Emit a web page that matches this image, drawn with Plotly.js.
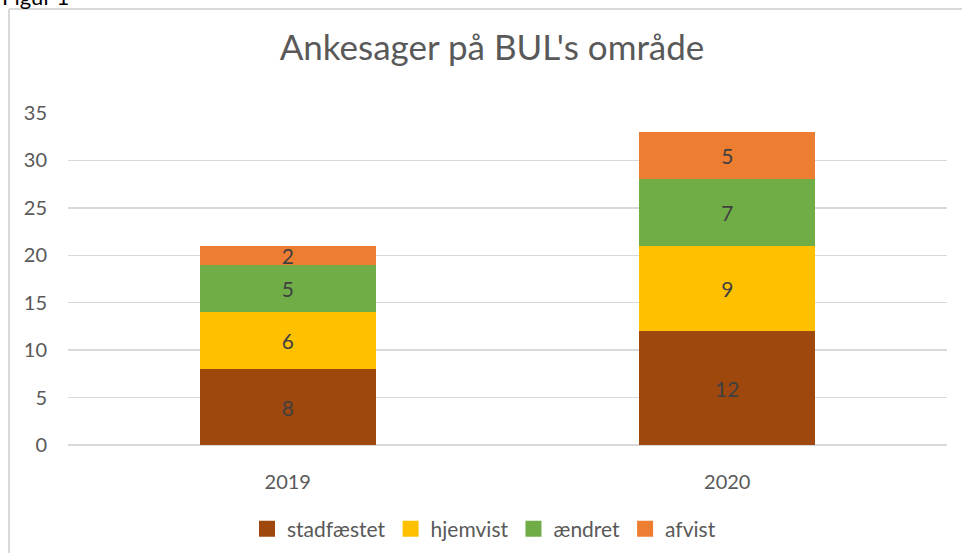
<!DOCTYPE html>
<html>
<head>
<meta charset="utf-8">
<script src="https://cdn.plot.ly/plotly-3.0.1.min.js"></script>
<style>
html,body{margin:0;padding:0;background:#fff;}
#chart{width:962px;height:553px;}
</style>
</head>
<body>
<div id="chart"></div>
<script>
const years = ['2019', '2020'];
const stadfaestet = [8, 12];
const hjemvist = [6, 9];
const aendret = [5, 7];
const afvist = [2, 5];
const seriesNames = ['stadfæstet', 'hjemvist', 'ændret', 'afvist'];
const seriesColors = ['#9E480E', '#FFC000', '#70AD47', '#ED7D31'];
const seriesValues = [stadfaestet, hjemvist, aendret, afvist];

const FONT = 'Lato, "Open Sans", sans-serif';
const W = 962, H = 553;
const mL = 68, mR = 15, mT = 113, mB = 108;
const pw = W - mL - mR, ph = H - mT - mB;
const px = v => (v - mL) / pw;
const py = v => (H - mB - v) / ph;

const barTraces = seriesNames.map((n, i) => ({
  type: 'bar',
  name: n,
  x: years,
  y: seriesValues[i],
  marker: {color: seriesColors[i], line: {width: 0}},
  text: seriesValues[i].map(String),
  textposition: 'inside',
  insidetextanchor: 'middle',
  textangle: 0,
  constraintext: 'none',
  textfont: {family: FONT, size: 21, color: '#404040'},
  hoverinfo: 'skip',
  showlegend: false
}));

const legendTraces = seriesNames.map((n, i) => ({
  type: 'scatter',
  mode: 'markers',
  name: n,
  x: [null],
  y: [null],
  marker: {color: seriesColors[i], symbol: 'square', size: 16},
  showlegend: true,
  hoverinfo: 'skip'
}));

const layout = {
  width: W, height: H,
  margin: {l: mL, r: mR, t: mT, b: mB, pad: 0},
  paper_bgcolor: '#ffffff',
  plot_bgcolor: '#ffffff',
  barmode: 'stack',
  bargap: 0.6,
  font: {family: FONT, color: '#595959'},
  title: {
    text: "Ankesager på BUL's område",
    font: {family: FONT, size: 35, color: '#595959'},
    x: px(492), xref: 'paper', xanchor: 'center',
    y: 1 - 48 / H, yanchor: 'middle'
  },
  xaxis: {
    type: 'category',
    tickfont: {family: FONT, size: 20, color: '#595959'},
    ticks: '', showline: false, showgrid: false, zeroline: false,
    ticklabelstandoff: 23
  },
  yaxis: {
    range: [0, 35],
    dtick: 5,
    tickfont: {family: FONT, size: 20, color: '#595959'},
    gridcolor: '#d9d9d9', gridwidth: 1.5,
    zeroline: true, zerolinecolor: '#d9d9d9', zerolinewidth: 1.5,
    showline: false, ticks: '',
    ticklabelstandoff: 20
  },
  legend: {
    orientation: 'h',
    xref: 'container', yref: 'container',
    x: 484 / W, xanchor: 'center',
    y: 1 - 529 / H, yanchor: 'middle',
    font: {family: FONT, size: 21, color: '#595959'},
    traceorder: 'normal',
    itemwidth: 30
  },
  showlegend: true,
  annotations: [{
    text: 'Figur 1',
    xref: 'paper', yref: 'paper',
    x: px(0), xanchor: 'left',
    y: py(12), yanchor: 'bottom',
    showarrow: false,
    font: {family: FONT, size: 22, color: '#000000'}
  }],
  shapes: [
    {type: 'line', xref: 'paper', yref: 'paper', x0: px(9), x1: px(9), y0: py(9), y1: py(560), line: {color: '#d9d9d9', width: 2}},
    {type: 'line', xref: 'paper', yref: 'paper', x0: px(9), x1: px(970), y0: py(9), y1: py(9), line: {color: '#d9d9d9', width: 2}}
  ]
};

Plotly.newPlot('chart', barTraces.concat(legendTraces), layout, {displayModeBar: false, staticPlot: true});
</script>
</body>
</html>
